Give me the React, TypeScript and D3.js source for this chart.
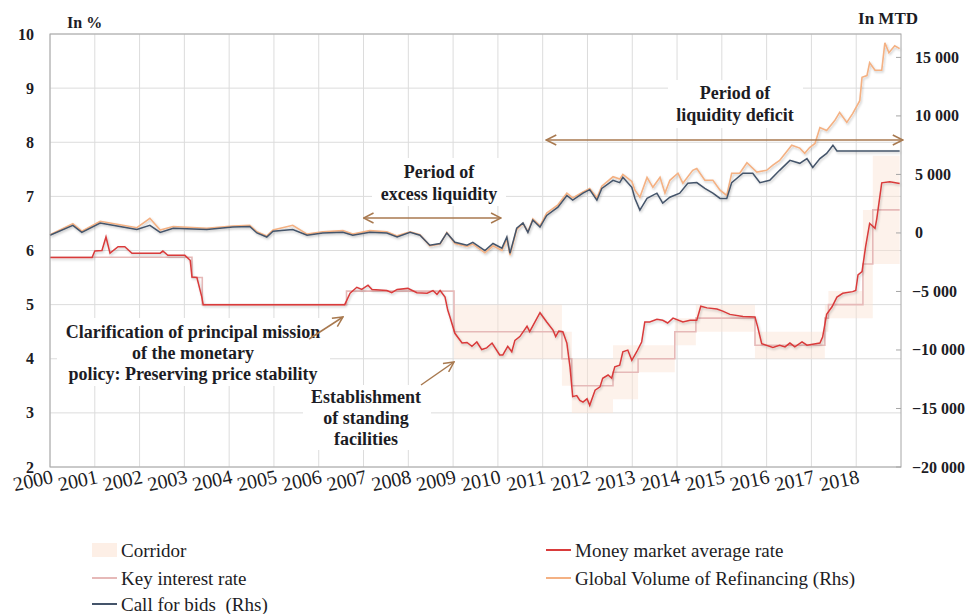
import * as d3 from "d3";

// x-axis labels (one per January)
const yearLabels = [
  "2000", "2001", "2002", "2003", "2004", "2005", "2006", "2007", "2008", "2009",
  "2010", "2011", "2012", "2013", "2014", "2015", "2016", "2017", "2018",
];
const leftTicks = [2, 3, 4, 5, 6, 7, 8, 9, 10];
const rightTicks = [-20000, -15000, -10000, -5000, 0, 5000, 10000, 15000];

// Call for bids (Rhs, MTD) — [decimal year, value]
const callForBids: [number, number][] = [
  [2000.0, -200], [2000.51, 650], [2000.71, 50], [2001.12, 850], [2001.56, 550],
  [2001.94, 300], [2002.23, 650], [2002.46, 50], [2002.75, 400], [2003.5, 300],
  [2004.08, 500], [2004.46, 550], [2004.62, 0], [2004.84, -350], [2004.98, 150],
  [2005.42, 300], [2005.74, -200], [2006.09, 0], [2006.54, 50], [2006.76, -200],
  [2007.14, 50], [2007.52, 0], [2007.75, -350], [2008.04, 50], [2008.26, -200],
  [2008.48, -1050], [2008.71, -900], [2008.86, 0], [2009.04, -800], [2009.31, -1050],
  [2009.44, -800], [2009.71, -1500], [2009.89, -900], [2010.09, -1300], [2010.2, -350],
  [2010.27, -1750], [2010.42, 400], [2010.56, 850], [2010.67, 50], [2010.78, 1100],
  [2010.94, 500], [2011.09, 1500], [2011.34, 2200], [2011.54, 3200], [2011.67, 2800],
  [2011.9, 3400], [2012.05, 3700], [2012.21, 2800], [2012.32, 3800], [2012.57, 4500],
  [2012.72, 4300], [2012.79, 4750], [2012.99, 3900], [2013.06, 2950], [2013.17, 1950],
  [2013.33, 2950], [2013.55, 3400], [2013.68, 2550], [2013.84, 3050], [2014.06, 3400],
  [2014.24, 4250], [2014.44, 4300], [2014.62, 3800], [2014.8, 3400], [2014.96, 2950],
  [2015.11, 2950], [2015.22, 4300], [2015.47, 5100], [2015.69, 5100], [2015.85, 4300],
  [2016.07, 4500], [2016.29, 5350], [2016.52, 6200], [2016.74, 5950], [2016.9, 6350],
  [2017.03, 5600], [2017.19, 6350], [2017.34, 6800], [2017.48, 7500], [2017.57, 7000],
  [2018.97, 7000],
];

// Global volume of refinancing (Rhs, MTD)
const refinancing: [number, number][] = [
  [2000.0, -150], [2000.51, 800], [2000.71, 150], [2001.12, 1000], [2001.56, 700],
  [2001.94, 450], [2002.23, 1250], [2002.46, 250], [2002.75, 550], [2003.5, 400],
  [2004.08, 600], [2004.46, 650], [2004.62, 100], [2004.84, -250], [2004.98, 250],
  [2005.42, 650], [2005.74, -100], [2006.09, 100], [2006.54, 200], [2006.76, -100],
  [2007.14, 200], [2007.52, 100], [2007.75, -250], [2008.04, 100], [2008.26, -150],
  [2008.48, -1100], [2008.71, -950], [2008.86, 50], [2009.04, -900], [2009.31, -1150],
  [2009.44, -950], [2009.71, -1700], [2009.89, -1100], [2010.09, -1500], [2010.2, -500],
  [2010.27, -1900], [2010.42, 300], [2010.56, 800], [2010.67, 100], [2010.78, 1200],
  [2010.94, 600], [2011.09, 1700], [2011.34, 2400], [2011.54, 3400], [2011.67, 3000],
  [2011.9, 3500], [2012.05, 3800], [2012.21, 3000], [2012.32, 4000], [2012.57, 4800],
  [2012.72, 4600], [2012.79, 5000], [2012.99, 4400], [2013.06, 3650], [2013.17, 3050],
  [2013.33, 4750], [2013.46, 3900], [2013.62, 4750], [2013.73, 3400], [2013.84, 4500],
  [2014.02, 5100], [2014.13, 4250], [2014.35, 5350], [2014.44, 5500], [2014.62, 4500],
  [2014.8, 4500], [2014.96, 3650], [2015.11, 3200], [2015.22, 5100], [2015.4, 5100],
  [2015.56, 6000], [2015.78, 5200], [2016.0, 5350], [2016.14, 5800], [2016.29, 6200],
  [2016.56, 7500], [2016.74, 7250], [2016.85, 6800], [2016.96, 7300], [2017.08, 7650],
  [2017.19, 9000], [2017.34, 8750], [2017.52, 9600], [2017.63, 10300], [2017.79, 9450],
  [2017.92, 10200], [2018.08, 11300], [2018.13, 13300], [2018.24, 13450], [2018.3, 14550],
  [2018.42, 13900], [2018.57, 13900], [2018.64, 16250], [2018.73, 15400], [2018.86, 16000],
  [2018.97, 15750],
];

// Money market average rate (%)
const moneyMarket: [number, number][] = [
  [2000.0, 5.87], [2000.94, 5.87], [2001.0, 5.99], [2001.16, 6.0], [2001.25, 6.25],
  [2001.34, 5.95], [2001.52, 6.07], [2001.67, 6.07], [2001.83, 5.95], [2002.46, 5.95],
  [2002.52, 5.99], [2002.63, 5.91], [2003.01, 5.91], [2003.13, 5.82], [2003.17, 5.51],
  [2003.28, 5.5], [2003.39, 5.14], [2003.42, 5.0], [2006.58, 5.0], [2006.7, 5.21],
  [2006.85, 5.32], [2006.96, 5.28], [2007.1, 5.36], [2007.19, 5.28], [2007.52, 5.26],
  [2007.63, 5.22], [2007.75, 5.28], [2007.99, 5.3], [2008.19, 5.22], [2008.42, 5.21],
  [2008.55, 5.26], [2008.64, 5.19], [2008.71, 5.26], [2008.82, 5.14], [2008.88, 4.9],
  [2008.93, 4.77], [2009.04, 4.47], [2009.2, 4.29], [2009.31, 4.3], [2009.42, 4.23],
  [2009.53, 4.31], [2009.64, 4.17], [2009.75, 4.2], [2009.87, 4.29], [2010.04, 4.07],
  [2010.11, 4.07], [2010.22, 4.23], [2010.31, 4.13], [2010.38, 4.34], [2010.49, 4.41],
  [2010.65, 4.6], [2010.71, 4.5], [2010.94, 4.85], [2011.09, 4.68], [2011.23, 4.53],
  [2011.29, 4.41], [2011.36, 4.51], [2011.45, 4.5], [2011.54, 4.29], [2011.61, 3.85],
  [2011.67, 3.3], [2011.76, 3.32], [2011.83, 3.23], [2011.9, 3.2], [2011.99, 3.26],
  [2012.05, 3.14], [2012.17, 3.42], [2012.28, 3.48], [2012.34, 3.64], [2012.46, 3.7],
  [2012.54, 3.64], [2012.61, 3.85], [2012.72, 3.88], [2012.79, 4.13], [2012.9, 4.16],
  [2012.99, 3.97], [2013.1, 4.13], [2013.21, 4.31], [2013.28, 4.68], [2013.39, 4.68],
  [2013.55, 4.73], [2013.68, 4.71], [2013.79, 4.66], [2013.91, 4.75], [2014.13, 4.68],
  [2014.29, 4.71], [2014.44, 4.71], [2014.53, 4.97], [2014.67, 4.94], [2014.89, 4.92],
  [2015.02, 4.88], [2015.18, 4.82], [2015.47, 4.78], [2015.74, 4.77], [2015.8, 4.59],
  [2015.89, 4.28], [2016.14, 4.21], [2016.29, 4.25], [2016.41, 4.22], [2016.52, 4.29],
  [2016.63, 4.22], [2016.79, 4.31], [2016.9, 4.25], [2017.19, 4.29], [2017.25, 4.4],
  [2017.34, 4.82], [2017.46, 4.96], [2017.57, 5.14], [2017.7, 5.21], [2017.92, 5.24],
  [2017.99, 5.26], [2018.04, 5.55], [2018.13, 5.61], [2018.21, 6.07], [2018.3, 6.5],
  [2018.42, 6.41], [2018.46, 6.59], [2018.57, 7.25], [2018.75, 7.27], [2018.97, 7.24],
];

// Key interest rate (%) — value holds from each date on
const keyRate: [number, number][] = [
  [2000.0, 5.875], [2003.17, 5.5], [2003.4, 5.0], [2006.62, 5.25], [2009.02, 4.5],
  [2011.43, 4.0], [2011.65, 3.5], [2012.57, 3.75], [2013.13, 4.0], [2013.95, 4.5],
  [2014.42, 4.75], [2015.74, 4.25], [2017.3, 4.75], [2017.38, 5.0], [2018.15, 5.75],
  [2018.37, 6.75], [2018.97, 6.75],
];

// Corridor of standing facilities (%) — [date, floor, ceiling]
const corridor: [number, number, number][] = [
  [2009.02, 4.0, 5.0], [2011.43, 3.5, 4.5], [2011.65, 3.0, 4.0], [2012.57, 3.25, 4.25],
  [2013.13, 3.75, 4.25], [2013.95, 4.25, 4.75], [2014.42, 4.5, 5.0], [2015.74, 4.0, 4.5],
  [2017.3, 4.5, 5.0], [2017.38, 4.75, 5.25], [2018.15, 4.75, 6.75], [2018.37, 5.75, 7.75],
  [2018.97, 5.75, 7.75],
];

const W = 970;
const H = 614;
const plot = { left: 50, right: 901, top: 34, bottom: 467 };

const serif = "Liberation Serif, Times New Roman, serif";
const ink = "#1c1c24";
const arrowColor = "#a8794f";
const corridorFill = "#fbe2d2";

export default function App() {
  const x = d3.scaleLinear().domain([2000, 2019]).range([plot.left, plot.right]);
  const yL = d3.scaleLinear().domain([2, 10]).range([plot.bottom, plot.top]);
  const yR = d3.scaleLinear().domain([-20000, 17000]).range([plot.bottom, plot.top]);

  const lineR = d3
    .line<[number, number]>()
    .x((d) => x(d[0]))
    .y((d) => yR(d[1]));
  const lineL = d3
    .line<[number, number]>()
    .x((d) => x(d[0]))
    .y((d) => yL(d[1]));
  const stepL = d3
    .line<[number, number]>()
    .x((d) => x(d[0]))
    .y((d) => yL(d[1]))
    .curve(d3.curveStepAfter);
  const band = d3
    .area<[number, number, number]>()
    .x((d) => x(d[0]))
    .y0((d) => yL(d[1]))
    .y1((d) => yL(d[2]))
    .curve(d3.curveStepAfter);

  const fmt = (v: number) => d3.format(",")(v).replace(/,/g, " ");

  const legendLeft = [
    { label: "Corridor", kind: "patch", color: corridorFill },
    { label: "Key interest rate", kind: "line", color: "#e6b9b8" },
    { label: "Call for bids  (Rhs)", kind: "line", color: "#44546a" },
  ];
  const legendRight = [
    { label: "Money market average rate", kind: "line", color: "#d93b3b" },
    { label: "Global Volume of Refinancing (Rhs)", kind: "line", color: "#f4b183" },
  ];
  const legendRows = [550, 578, 604];

  const txt = { fontFamily: serif, whiteSpace: "pre" as const };

  const renderLegend = (items: typeof legendLeft, sx: number) =>
    items.map((it, i) => (
      <g key={it.label} transform={`translate(${sx},${legendRows[i]})`}>
        {it.kind === "patch" ? (
          <rect x={0} y={-7} width={25} height={14} fill={it.color} opacity={0.55} />
        ) : (
          <line x1={0} x2={25} y1={0} y2={0} stroke={it.color} strokeWidth={2} />
        )}
        <text x={29} y={0} dominantBaseline="central" fontSize={19} fill={ink} style={txt}>
          {it.label}
        </text>
      </g>
    ));

  const annot = (lines: string[], cx: number, cy: number, lh = 21) =>
    lines.map((t, i) => (
      <text
        key={t}
        x={cx}
        y={cy + i * lh}
        textAnchor="middle"
        dominantBaseline="central"
        fontSize={18}
        fontWeight="bold"
        fill={ink}
        style={txt}
      >
        {t}
      </text>
    ));

  return (
    <svg width={W} height={H} style={{ position: "absolute", left: 0, top: 0, background: "#fff" }}>
      <defs>
        <filter id="shadow" x="-5%" y="-20%" width="110%" height="140%">
          <feDropShadow dx="1" dy="1.5" stdDeviation="1" floodColor="#000" floodOpacity="0.22" />
        </filter>
        <marker
          id="chev"
          viewBox="0 0 12 12"
          refX="11"
          refY="6"
          markerWidth="12"
          markerHeight="12"
          markerUnits="userSpaceOnUse"
          orient="auto-start-reverse"
        >
          <path d="M1,1 L11,6 L1,11" fill="none" stroke={arrowColor} strokeWidth={1.5} />
        </marker>
      </defs>

      {/* grid */}
      <g stroke="#dcdcdc" strokeWidth={1}>
        {leftTicks.map((t) => (
          <line key={`h${t}`} x1={plot.left} x2={plot.right} y1={yL(t)} y2={yL(t)} />
        ))}
        {yearLabels.map((y) => (
          <line key={`v${y}`} x1={x(+y)} x2={x(+y)} y1={plot.top} y2={plot.bottom} />
        ))}
      </g>

      {/* text boxes over the grid */}
      <g fill="#fff">
        <rect x={668} y={80} width={135} height={48} />
        <rect x={372} y={158} width={134} height={48} />
        <rect x={57} y={318} width={273} height={68} />
        <rect x={303} y={385} width={128} height={65} />
      </g>

      {/* corridor and key rate */}
      <path d={band(corridor) ?? ""} fill={corridorFill} opacity={0.45} />
      <path d={stepL(keyRate) ?? ""} fill="none" stroke="#e6b9b8" strokeWidth={1.6} />

      {/* series */}
      <g filter="url(#shadow)">
        <path d={lineR(refinancing) ?? ""} fill="none" stroke="#f4b183" strokeWidth={1.6} />
        <path d={lineR(callForBids) ?? ""} fill="none" stroke="#44546a" strokeWidth={1.5} />
        <path d={lineL(moneyMarket) ?? ""} fill="none" stroke="#d93b3b" strokeWidth={1.5} />
      </g>

      {/* frame */}
      <rect
        x={plot.left}
        y={plot.top}
        width={plot.right - plot.left}
        height={plot.bottom - plot.top}
        fill="none"
        stroke="#a6a6a6"
        strokeWidth={1}
      />
      {rightTicks.map((t) => (
        <line key={`rt${t}`} x1={plot.right - 5} x2={plot.right} y1={yR(t)} y2={yR(t)} stroke="#a6a6a6" />
      ))}

      {/* left axis */}
      {leftTicks.map((t) => (
        <text
          key={`l${t}`}
          x={34}
          y={yL(t)}
          textAnchor="end"
          dominantBaseline="central"
          fontSize={16}
          fontWeight="bold"
          fill={ink}
          style={txt}
        >
          {t}
        </text>
      ))}
      <text x={67} y={28} fontSize={16} fontWeight="bold" fill={ink} style={txt}>
        In %
      </text>

      {/* right axis */}
      {rightTicks.map((t) => (
        <text
          key={`r${t}`}
          x={t < 0 ? 912 : 915}
          y={yR(t)}
          dominantBaseline="central"
          fontSize={16}
          fontWeight="bold"
          fill={ink}
          style={txt}
        >
          {fmt(t)}
        </text>
      ))}
      <text x={918} y={24} textAnchor="end" fontSize={17} fontWeight="bold" fill={ink} style={txt}>
        In MTD
      </text>

      {/* x axis labels */}
      {yearLabels.map((y) => (
        <text
          key={`x${y}`}
          transform={`translate(${x(+y) + 4},483) rotate(-12)`}
          textAnchor="end"
          fontSize={20}
          fill={ink}
          style={txt}
        >
          {y}
        </text>
      ))}

      {/* annotations */}
      {annot(["Period of", "liquidity deficit"], 735, 93, 22)}
      <line
        x1={x(2011.08)}
        x2={x(2019.04)}
        y1={140}
        y2={140}
        stroke={arrowColor}
        strokeWidth={1.5}
        markerStart="url(#chev)"
        markerEnd="url(#chev)"
      />
      {annot(["Period of", "excess liquidity"], 439, 172, 22)}
      <line
        x1={x(2007.0)}
        x2={x(2010.07)}
        y1={218}
        y2={218}
        stroke={arrowColor}
        strokeWidth={1.5}
        markerStart="url(#chev)"
        markerEnd="url(#chev)"
      />
      {annot(
        ["Clarification of principal mission", "of the monetary", "policy: Preserving price stability"],
        193,
        332,
      )}
      <line x1={309} y1={339} x2={343} y2={317} stroke={arrowColor} strokeWidth={1.5} markerEnd="url(#chev)" />
      {annot(["Establishment", "of standing", "facilities"], 366, 397)}
      <line x1={421} y1={385} x2={454} y2={362} stroke={arrowColor} strokeWidth={1.5} markerEnd="url(#chev)" />

      {/* legend */}
      {renderLegend(legendLeft, 92)}
      {renderLegend(legendRight, 546)}
    </svg>
  );
}
